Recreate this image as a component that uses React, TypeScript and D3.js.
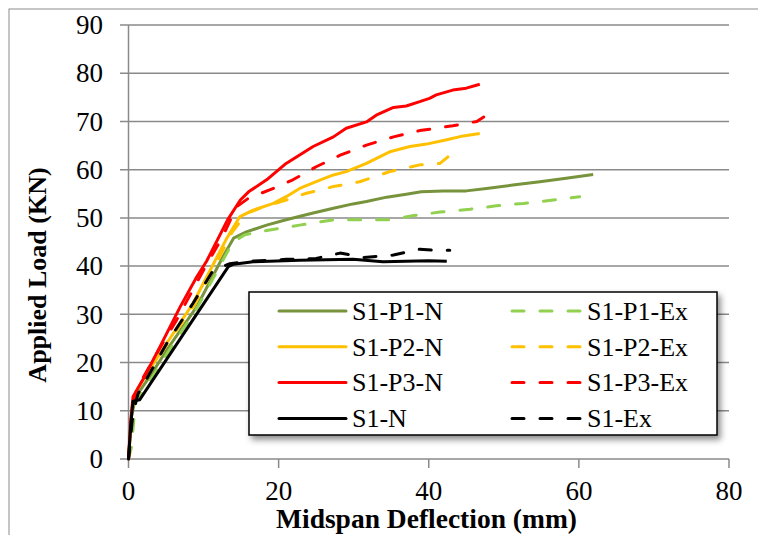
import React, { useEffect, useRef } from "react";
import * as d3 from "d3";

type Pt = [number, number];

// deflection (mm), load (kN)
const p1N: Pt[] = [[0,0],[0.4,9],[1,13],[3,17.5],[5.1,22.6],[9.1,31.6],[12.6,42],[14,45.8],[15.7,47.1],[18.4,48.5],[21,49.6],[24.6,51],[27.3,52],[29.9,52.9],[31.7,53.4],[34.4,54.3],[37,54.9],[39,55.4],[41.9,55.6],[45,55.6],[47.7,56.1],[51.2,56.8],[54.8,57.5],[58.3,58.2],[61.9,59]];
const p1Ex: Pt[] = [[0,0],[0.4,2.5],[0.7,8],[1,12],[2,14],[5.2,22],[9.2,31.5],[12.5,41],[13.9,45],[15.5,46.5],[18.8,47.5],[22.8,48.5],[27.3,49.6],[31.7,49.6],[34.8,49.6],[38,50.5],[41.5,51.2],[45.5,51.8],[49,52.5],[52.6,53],[56.6,53.7],[60.1,54.4]];
const p2N: Pt[] = [[0,0],[0.5,11],[1.2,14.5],[3,19],[5.1,24],[8.6,32.3],[10.9,39.2],[13,45.5],[14.8,50.2],[16.6,51.6],[19.3,53],[21,54.4],[22.8,56.1],[25,57.5],[27.3,58.9],[29,59.6],[31.7,61.3],[34.8,63.7],[37.5,64.8],[39.7,65.3],[42.4,66.2],[44.6,67],[46.8,67.5]];
const p2Ex: Pt[] = [[0,0],[0.6,10],[1.3,14],[5,23.5],[8.8,32],[11.5,40],[13.8,47],[15.7,50.9],[18,52.3],[21,53.7],[23.7,55.1],[27.3,56.5],[30.8,57.5],[34.8,59.6],[38.8,61],[41.5,61.3],[42.6,62.7]];
const p3N: Pt[] = [[0,0],[0.3,8],[0.6,12.9],[1,14],[2,16.7],[4.2,23.3],[6.9,31.6],[9.1,37.8],[10.4,41],[13.2,49.6],[14.9,53.7],[16,55.4],[18.4,57.9],[21,61.3],[24.6,64.8],[27.3,66.8],[29,68.6],[31.7,69.9],[33,71.3],[35.3,72.9],[37,73.2],[38.8,74.1],[40.1,74.8],[41,75.5],[43.2,76.5],[45,76.9],[46.8,77.7]];
const p3Ex: Pt[] = [[0,0],[0.5,10],[1.1,14.5],[3.8,22],[6.4,28.8],[10,39.2],[12.5,46],[14.4,52.3],[16,54.1],[18.8,55.8],[21.9,57.9],[25,60.6],[28.2,63],[31.7,65.1],[35.3,66.8],[38.8,68.1],[43.2,69.1],[46.4,70],[47.7,71.3]];
const s1N: Pt[] = [[0,0],[0.3,7],[0.6,12],[1.5,12.3],[13.3,39.9],[14,40.4],[16.6,40.9],[22.8,41.2],[29.9,41.4],[33.9,40.9],[40,41.1],[42.4,41]];
const s1Ex: Pt[] = [[0,0],[0.5,8],[1,12],[1.3,13.6],[5.1,24],[8.6,32.3],[11.3,39.2],[13.5,40.5],[16,41],[21,41.4],[25,41.6],[28.2,42.7],[31.3,41.8],[35.3,42.3],[38.8,43.5],[40.5,43.3],[42.8,43.3]];

const seriesNames = ["S1-P1-N", "S1-P1-Ex", "S1-P2-N", "S1-P2-Ex", "S1-P3-N", "S1-P3-Ex", "S1-N", "S1-Ex"];
const seriesData = [p1N, p1Ex, p2N, p2Ex, p3N, p3Ex, s1N, s1Ex];
const seriesColors = ["#77933C", "#92D050", "#FFC000", "#FFC000", "#FF0000", "#FF0000", "#000000", "#000000"];
const seriesDashed = [false, true, false, true, false, true, false, true];

const xTicks = [0, 20, 40, 60, 80];
const yTicks = [0, 10, 20, 30, 40, 50, 60, 70, 80, 90];

const FONT = '"Liberation Serif", "Times New Roman", serif';

const App = () => {
  const svgRef = useRef<SVGSVGElement>(null);

  useEffect(() => {
    const svg = d3.select(svgRef.current);
    svg.selectAll("*").remove();

    const x = d3.scaleLinear().domain([0, 80]).range([128.5, 729]);
    const y = d3.scaleLinear().domain([0, 90]).range([459, 25]);

    // outer chart frame
    svg.append("rect").attr("x", 9).attr("y", 9).attr("width", 800).attr("height", 600)
      .attr("fill", "white").attr("stroke", "#8c8c8c").attr("stroke-width", 1);

    // horizontal gridlines with tick stubs
    yTicks.forEach((t) => {
      svg.append("line").attr("x1", 120).attr("x2", 729).attr("y1", y(t)).attr("y2", y(t))
        .attr("stroke", "#8a8a8a").attr("stroke-width", 1.5);
      svg.append("text").attr("x", 103).attr("y", y(t)).attr("dy", "0.34em")
        .attr("text-anchor", "end").style("font-family", FONT).style("font-size", "27px").text(t);
    });

    // y axis line
    svg.append("line").attr("x1", x(0)).attr("x2", x(0)).attr("y1", y(90)).attr("y2", y(0))
      .attr("stroke", "#8a8a8a").attr("stroke-width", 1.5);

    xTicks.forEach((t) => {
      svg.append("line").attr("x1", x(t)).attr("x2", x(t)).attr("y1", y(0)).attr("y2", y(0) + 9)
        .attr("stroke", "#8a8a8a").attr("stroke-width", 1.5);
      svg.append("text").attr("x", x(t)).attr("y", 500).attr("text-anchor", "middle")
        .style("font-family", FONT).style("font-size", "27px").text(t);
    });

    // axis titles
    svg.append("text").attr("x", 426.5).attr("y", 528).attr("text-anchor", "middle")
      .style("font-family", FONT).style("font-weight", "bold").style("font-size", "27.5px")
      .text("Midspan Deflection (mm)");
    svg.append("text").attr("transform", "translate(46,275) rotate(-90)").attr("text-anchor", "middle")
      .style("font-family", FONT).style("font-weight", "bold").style("font-size", "26px")
      .text("Applied Load (KN)");

    const line = d3.line<Pt>().x((d) => x(d[0])).y((d) => y(d[1]));

    seriesData.forEach((data, i) => {
      svg.append("path").attr("d", line(data)).attr("fill", "none")
        .attr("stroke", seriesColors[i]).attr("stroke-width", 3)
        .attr("stroke-linejoin", "round")
        .attr("stroke-linecap", seriesDashed[i] ? "round" : "butt")
        .attr("stroke-dasharray", seriesDashed[i] ? "12,16" : null);
    });

    // legend
    const defs = svg.append("defs");
    const f = defs.append("filter").attr("id", "shadow").attr("x", "-10%").attr("y", "-10%")
      .attr("width", "130%").attr("height", "140%");
    f.append("feDropShadow").attr("dx", 3).attr("dy", 4).attr("stdDeviation", 3)
      .attr("flood-color", "#000").attr("flood-opacity", 0.45);

    const lg = svg.append("g");
    lg.append("rect").attr("x", 249).attr("y", 292).attr("width", 468).attr("height", 143)
      .attr("fill", "white").attr("stroke", "black").attr("stroke-width", 1.5)
      .attr("filter", "url(#shadow)");

    seriesNames.forEach((name, i) => {
      const col = i % 2;
      const row = Math.floor(i / 2);
      const ly = 311 + row * 35.8;
      const lx0 = col === 0 ? 279 : 512;
      const lx1 = col === 0 ? 346 : 580;
      lg.append("line").attr("x1", lx0).attr("x2", lx1).attr("y1", ly).attr("y2", ly)
        .attr("stroke", seriesColors[i]).attr("stroke-width", 3).attr("stroke-linecap", "round")
        .attr("stroke-dasharray", seriesDashed[i] ? "12,16" : null);
      lg.append("text").attr("x", col === 0 ? 352 : 587).attr("y", ly).attr("dy", "0.34em")
        .style("font-family", FONT).style("font-size", "26px").text(name);
    });
  }, []);

  return (
    <div style={{ position: "fixed", left: 0, top: 0, width: 758, height: 535, background: "white" }}>
      <svg ref={svgRef} width={758} height={535} style={{ display: "block" }} />
    </div>
  );
};

export default App;
